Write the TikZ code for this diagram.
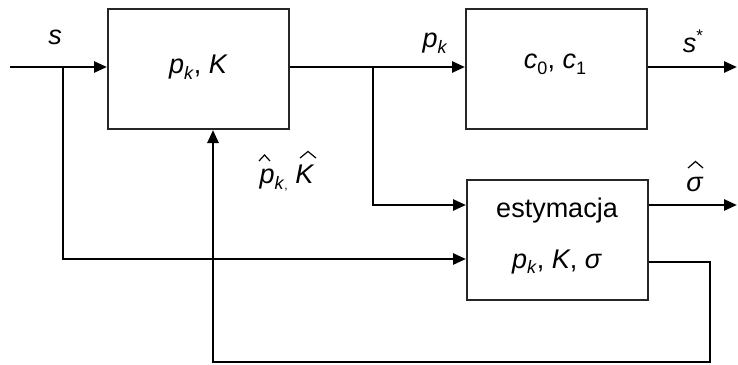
\documentclass[tikz,border=0pt]{standalone}
\usepackage{fontspec}
\setmainfont{Liberation Sans}
\usetikzlibrary{arrows.meta}
\newcommand{\lidx}[1]{\raisebox{-0.22em}{\fontsize{18}{18}\selectfont #1}}
\tikzset{
  blk/.style={draw=black!85, line width=2pt, minimum width=181pt, minimum height=120pt, inner sep=0pt},
  txt/.style={font=\fontsize{27}{27}\selectfont, inner sep=0pt},
  sig/.style={line width=2.6pt, -{Triangle[length=13pt,width=11pt]}},
  hatline/.style={line width=1.2pt, line join=miter},
}
\begin{document}
\begin{tikzpicture}[x=1pt,y=-1pt]
\useasboundingbox (0,0) rectangle (738,364);
% boxes
\node[blk] (b1) at (198.5,69) {};
\node[blk] (b2) at (556.5,68.5) {};
\node[blk] (b3) at (557.5,239.5) {};
% box texts
\node[txt] (t1) at (198.5,67) {\textit{p}\lidx{\textit{k}}, \textit{K}};
\node[txt] (t2) at (555,64) {\textit{c}\lidx{0}, \textit{c}\lidx{1}};
\node[txt, anchor=base] (t3a) at (557,217) {estymacja};
\node[txt, anchor=base] (t3b) at (557,268) {\textit{p}\lidx{\textit{k}}, \textit{K}, \textit{σ}};
% coordinates
\coordinate (in) at (10,67);
\coordinate (j1) at (63,67);
\coordinate (j2) at (373,67);
\coordinate (o1) at (737,67);
\coordinate (o2) at (737,205);
\coordinate (fb1) at (710,362);
\coordinate (fb2) at (213,362);
% wires
\draw[sig] (in) -- (b1.west |- in);
\draw[sig] (b1.east |- j2) -- (b2.west |- j2);
\draw[sig] (b2.east |- o1) -- (o1);
\draw[sig] (j2) |- (b3.west |- 0,205);
\draw[sig] (j1) |- (b3.west |- 0,259);
\draw[sig] (b3.east |- o2) -- (o2);
\draw[sig] (b3.east |- 0,262) -| (fb1) -- (fb2) -- (b1.south -| fb2);
% labels
\node[txt] (ls) at (55,37) {\textit{s}};
\node[txt] (lpk) at (435,43) {\textit{p}\lidx{\textit{k}}};
\node[txt] (lss) at (693,41) {\textit{s}\raisebox{0.4em}{\fontsize{17}{17}\selectfont *}};
\node[txt] (lsig) at (695,184) {\textit{σ}};
\node[txt] (lhat) at (287,178) {\textit{p}\lidx{\textit{k}}\raisebox{-0.25em}{\fontsize{12}{12}\selectfont ,} \textit{K}};
% hats
\draw[hatline] (688,168) -- (695.5,161.5) -- (703,168);
\draw[hatline] (259,161) -- (264.5,155) -- (270,161);
\draw[hatline] (300,158) -- (308,151.5) -- (316,158);
\end{tikzpicture}
\end{document}
